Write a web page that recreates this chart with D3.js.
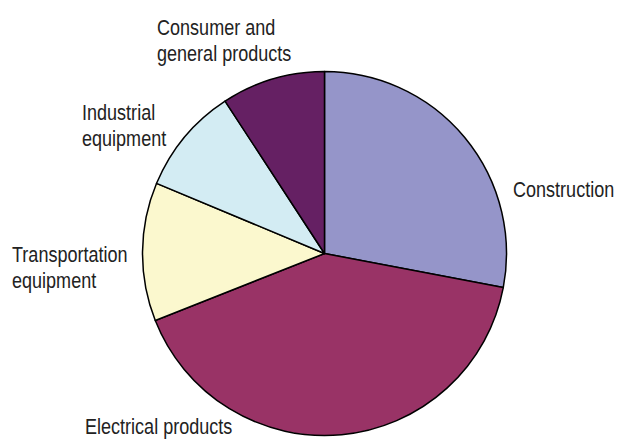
<!DOCTYPE html>
<html>
<head>
<meta charset="utf-8">
<script src="https://cdn.jsdelivr.net/npm/d3@7"></script>
<style>
  html, body { margin: 0; padding: 0; background: #fff; }
  svg { display: block; }
  text { font-family: "Liberation Sans", Arial, sans-serif; font-size: 22px; fill: #222; }
</style>
</head>
<body>
<svg id="chart" width="618" height="442"></svg>
<script>
// Data
const categories = ["Construction", "Electrical products", "Transportation equipment", "Industrial equipment", "Consumer and general products"];
const values = [28.0, 41.0, 12.3, 9.5, 9.2];
const colors = ["#9595C9", "#993366", "#FBF8CE", "#D3ECF3", "#652063"];
const labelLines = [["Construction"], ["Electrical products"], ["Transportation", "equipment"], ["Industrial", "equipment"], ["Consumer and", "general products"]];

// Layout
const width = 618, height = 442;
const cx = 324.5, cy = 253.5, radius = 182;
const labelPos = [[513, 197], [85, 434], [12, 262], [82, 120], [157, 35]];
const lineHeight = 26.5;
const narrow = 0.82;

const svg = d3.select("#chart");
const g = svg.append("g").attr("transform", `translate(${cx},${cy})`);

const pie = d3.pie().sort(null).value(d => d.v);
const arc = d3.arc().innerRadius(0).outerRadius(radius);
const data = categories.map((c, i) => ({ c, v: values[i], color: colors[i] }));

g.selectAll("path")
  .data(pie(data))
  .join("path")
  .attr("d", arc)
  .attr("fill", d => d.data.color)
  .attr("stroke", "#000")
  .attr("stroke-width", 1.5)
  .attr("stroke-linejoin", "round");

const labels = svg.append("g");
labelLines.forEach((lines, i) => {
  const t = labels.append("text")
    .attr("transform", `translate(${labelPos[i][0]},${labelPos[i][1]}) scale(${narrow},1)`);
  lines.forEach((ln, j) => {
    t.append("tspan")
      .attr("x", 0)
      .attr("dy", j === 0 ? 0 : lineHeight)
      .text(ln);
  });
});
</script>
</body>
</html>
